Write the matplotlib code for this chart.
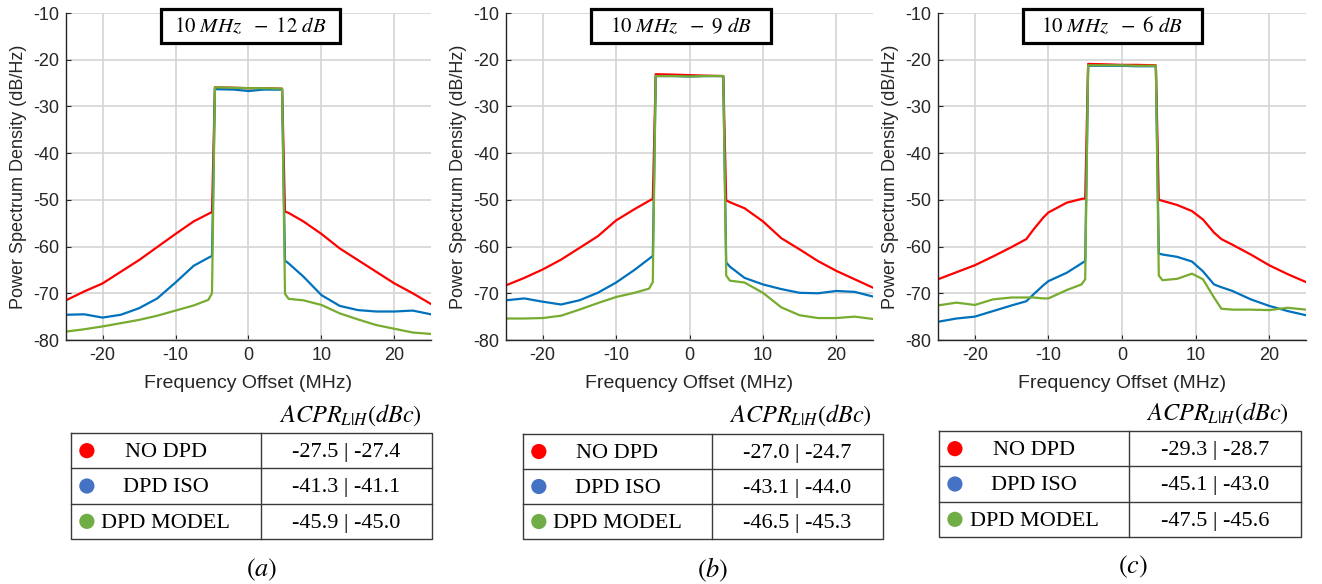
import matplotlib
matplotlib.use("Agg")
import matplotlib.pyplot as plt
from matplotlib.patches import Rectangle

plt.rcParams['font.family'] = ['Liberation Sans', 'DejaVu Sans']
plt.rcParams['mathtext.fontset'] = 'stix'
plt.rcParams['axes.unicode_minus'] = False

# --- data (PSD in dB/Hz vs frequency offset in MHz) ---
FREQ_AB = [-25, -22.5, -20, -17.5, -15, -12.5, -10, -7.5, -5.5, -5.0, -4.6, -2, 0, 2, 4.6, 5.0,
           5.5, 7.5, 10, 12.5, 15, 17.5, 20, 22.5, 25]

A_RED = [-71.5, -69.6, -67.9, -65.4, -62.9, -60.1, -57.3, -54.6, -53.0, -52.6, -25.9, -26.0, -26.1, -26.1,
         -26.2, -52.5, -52.8, -54.6, -57.3, -60.4, -62.9, -65.4, -67.9, -70.0, -72.3]
A_BLUE = [-74.6, -74.5, -75.2, -74.6, -73.2, -71.1, -67.7, -64.1, -62.4, -62.0, -26.3, -26.4, -26.7, -26.4,
          -26.4, -63.0, -63.6, -66.4, -70.4, -72.7, -73.6, -73.9, -73.9, -73.7, -74.5]
A_GREEN = [-78.2, -77.7, -77.1, -76.4, -75.7, -74.8, -73.7, -72.6, -71.4, -70.0, -25.9, -26.0, -26.1, -26.1,
           -26.2, -70.1, -71.2, -71.5, -72.5, -74.3, -75.6, -76.8, -77.6, -78.4, -78.7]

B_RED = [-68.3, -66.7, -64.9, -62.8, -60.3, -57.8, -54.4, -52.0, -50.2, -49.8, -23.1, -23.2, -23.3, -23.4,
         -23.5, -50.1, -50.5, -51.8, -54.6, -58.2, -60.6, -63.1, -65.2, -67.0, -68.8]
B_BLUE = [-71.5, -71.1, -71.8, -72.4, -71.5, -69.9, -67.7, -65.0, -62.6, -62.0, -23.5, -23.5, -23.6, -23.5,
          -23.5, -63.4, -64.3, -66.7, -68.1, -69.1, -69.9, -70.0, -69.5, -69.7, -70.7]
B_GREEN = [-75.4, -75.4, -75.3, -74.8, -73.5, -72.1, -70.8, -69.9, -69.0, -67.6, -23.5, -23.5, -23.6, -23.5,
           -23.5, -66.2, -67.3, -67.7, -69.9, -73.0, -74.7, -75.3, -75.3, -75.0, -75.5]

FREQ_C = [-25, -22.5, -20, -17.5, -15, -13, -12, -10.7, -10, -7.5, -5.5, -5.0, -4.6, -2, 0, 2, 4.6, 5.0,
          5.5, 7.5, 9.5, 11, 12.5, 13.5, 15, 17.5, 20, 22.5, 25]
C_RED = [-67.0, -65.5, -64.0, -62.1, -60.1, -58.4, -56.3, -53.8, -52.7, -50.6, -49.8, -49.7, -20.9, -21.0,
         -21.1, -21.1, -21.2, -50.0, -50.2, -51.1, -52.4, -54.2, -57.0, -58.4, -59.6, -61.7, -64.0, -65.9, -67.6]
C_BLUE = [-76.1, -75.4, -75.0, -73.8, -72.6, -71.7, -70.2, -68.3, -67.4, -65.6, -63.6, -63.1, -21.3, -21.3,
          -21.3, -21.4, -21.4, -61.5, -61.7, -62.2, -63.2, -65.3, -68.1, -68.7, -69.5, -71.3, -72.7, -73.8, -74.7]
C_GREEN = [-72.6, -72.0, -72.5, -71.3, -70.9, -70.9, -70.9, -71.1, -71.1, -69.3, -68.1, -67.0, -21.2, -21.2,
           -21.2, -21.3, -21.3, -66.2, -67.2, -66.9, -65.8, -67.0, -70.9, -73.3, -73.5, -73.5, -73.6, -73.1, -73.5]

TITLES = [r'$10\ MHz\ \ -\ 12\ dB$', r'$10\ MHz\ \ -\ 9\ dB$', r'$10\ MHz\ \ -\ 6\ dB$']
PANEL_TAGS = [r'$(a)$', r'$(b)$', r'$(c)$']

ROW_NAMES = ["NO DPD", "DPD ISO", "DPD MODEL"]
ACPR_LOW = [[-27.5, -41.3, -45.9], [-27.0, -43.1, -46.5], [-29.3, -45.1, -47.5]]
ACPR_HIGH = [[-27.4, -41.1, -45.0], [-24.7, -44.0, -45.3], [-28.7, -43.0, -45.6]]

LINE_COLORS = ['#ff0000', '#0072bd', '#77ac30']
DOT_COLORS = ['#ff0000', '#4472c4', '#70ad47']

W, H = 1322, 584


def px_box(x0, y0, x1, y1):
    return [x0 / W, 1 - y1 / H, (x1 - x0) / W, (y1 - y0) / H]


fig = plt.figure(figsize=(W / 100, H / 100), dpi=100)

axes_px = [(66, 13, 431, 340), (506, 13, 873, 340), (938, 13, 1306, 340)]
title_px = [(161, 9, 340, 43), (591, 9, 771, 43), (1023, 9, 1202, 43)]
table_px = [(71, 433, 432, 539), (523, 434, 883, 539), (939, 431, 1301, 537)]
header_px = [(350, 415), (800, 415), (1217, 413)]
tag_px = [(262, 570), (713, 570), (1133, 567)]

curves = [(FREQ_AB, [A_RED, A_BLUE, A_GREEN]),
          (FREQ_AB, [B_RED, B_BLUE, B_GREEN]),
          (FREQ_C, [C_RED, C_BLUE, C_GREEN])]

for i in range(3):
    ax = fig.add_axes(px_box(*axes_px[i]))
    freq, series = curves[i]
    for psd, col in zip(series, LINE_COLORS):
        ax.plot(freq, psd, color=col, lw=1.6)
    ax.set_xlim(-25, 25)
    ax.set_ylim(-80, -10)
    ax.set_xticks([-20, -10, 0, 10, 20])
    ax.set_yticks(range(-80, 0, 10))
    ax.grid(True, color='#d4d4d4', lw=1.2)
    ax.set_axisbelow(True)
    for s in ['top', 'right']:
        ax.spines[s].set_visible(False)
    for s in ['left', 'bottom']:
        ax.spines[s].set_color('#262626')
        ax.spines[s].set_linewidth(1.0)
    ax.tick_params(direction='in', length=3.5, width=0.8, colors='#262626', labelsize=13, pad=5)
    ax.set_xlabel('Frequency Offset (MHz)', fontsize=14, color='#262626', labelpad=8)
    ax.set_ylabel('Power Spectrum Density (dB/Hz)', fontsize=13, color='#262626', labelpad=4)

    # title box
    x0, y0, x1, y1 = title_px[i]
    fig.add_artist(Rectangle((x0 / W, 1 - y1 / H), (x1 - x0) / W, (y1 - y0) / H,
                             transform=fig.transFigure, facecolor='white', edgecolor='black',
                             lw=2.3, zorder=10))
    fig.text((x0 + x1) / 2 / W, 1 - (y0 + y1) / 2 / H, TITLES[i], fontsize=15,
             ha='center', va='center', zorder=11)

    # ACPR table
    tx = fig.add_axes(px_box(*table_px[i]))
    tx.set_xlim(0, 1)
    tx.set_ylim(3, 0)
    tx.axis('off')
    tcol = '#3a3a3a'
    tx.plot([0, 1, 1, 0, 0], [0, 0, 3, 3, 0], color=tcol, lw=1.0, clip_on=False)
    tx.plot([0, 1], [1, 1], color=tcol, lw=1.0, clip_on=False)
    tx.plot([0, 1], [2, 2], color=tcol, lw=1.0, clip_on=False)
    tx.plot([0.525, 0.525], [0, 3], color=tcol, lw=1.0, clip_on=False)
    for r in range(3):
        tx.scatter([0.044], [r + 0.5], s=120, color=DOT_COLORS[r], edgecolors='none', clip_on=False)
        tx.text(0.2625, r + 0.55, ROW_NAMES[r], ha='center', va='center', fontsize=16,
                family='Liberation Serif')
        tx.text(0.7625, r + 0.55, f"{ACPR_LOW[i][r]:.1f} | {ACPR_HIGH[i][r]:.1f}", ha='center',
                va='center', fontsize=16, family='Liberation Serif')

    hx, hy = header_px[i]
    fig.text(hx / W, 1 - hy / H, r'$ACPR_{L|H}(dBc)$', fontsize=17.5, ha='center', va='center')
    gx, gy = tag_px[i]
    fig.text(gx / W, 1 - gy / H, PANEL_TAGS[i], fontsize=19, ha='center', va='center')

fig.savefig('out.png', dpi=100)
